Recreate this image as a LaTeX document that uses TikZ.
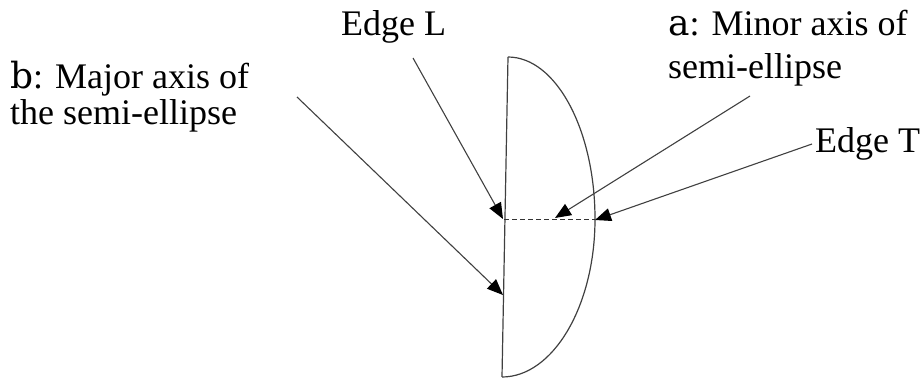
\documentclass[tikz,border=0pt]{standalone}
\usepackage{fontspec}
\setmainfont{Liberation Serif}
\newfontfamily\letterfont{DejaVu Serif}
\usetikzlibrary{arrows.meta}
\newcommand\axisletter[1]{{\letterfont #1}}
\tikzset{
  lbl/.style={inner sep=0pt, font=\fontsize{36}{36}\selectfont, align=left, anchor=base west},
  ptr/.style={draw=black!75, line width=1.1pt, -{Triangle[length=16pt,width=13pt,color=black]}},
  outline/.style={draw=black!75, line width=1.2pt},
}
\begin{document}
\begin{tikzpicture}[x=1pt,y=-1pt]
\useasboundingbox (0,0) rectangle (922,383);
% shape
\coordinate (top) at (508,57);
\coordinate (bot) at (502,377);
\coordinate (mid) at (504,219);
\coordinate (rim) at (595,219);
\draw[outline] (top) -- (bot);
\draw[outline] (top) .. controls (556,57) and (595,130) .. (rim)
   .. controls (595,306) and (553,377) .. (bot);
\draw[black!80, line width=1pt, dash pattern=on 5pt off 3pt] (mid) -- (rim);
% labels
\node[lbl] (edgeL) at (341,35) {Edge L};
\node[lbl] (bl) at (10,124) {\axisletter{b}: Major axis of\\the semi-ellipse};
\node[lbl, font=\fontsize{36}{43}\selectfont] (al) at (668,78) {\axisletter{a}: Minor axis of\\semi-ellipse};
\node[lbl] (edgeT) at (815,152) {Edge T};
% arrow endpoints
\coordinate (sL) at (413,58);
\coordinate (tL) at (503,219);
\coordinate (sB) at (297,97);
\coordinate (tB) at (503,295);
\coordinate (sA) at (750,96);
\coordinate (tA) at (555,218);
\coordinate (sT) at (812,144);
\coordinate (tT) at (595,220);
\draw[ptr] (sL) -- (tL);
\draw[ptr] (sB) -- (tB);
\draw[ptr] (sA) -- (tA);
\draw[ptr] (sT) -- (tT);
\end{tikzpicture}
\end{document}
